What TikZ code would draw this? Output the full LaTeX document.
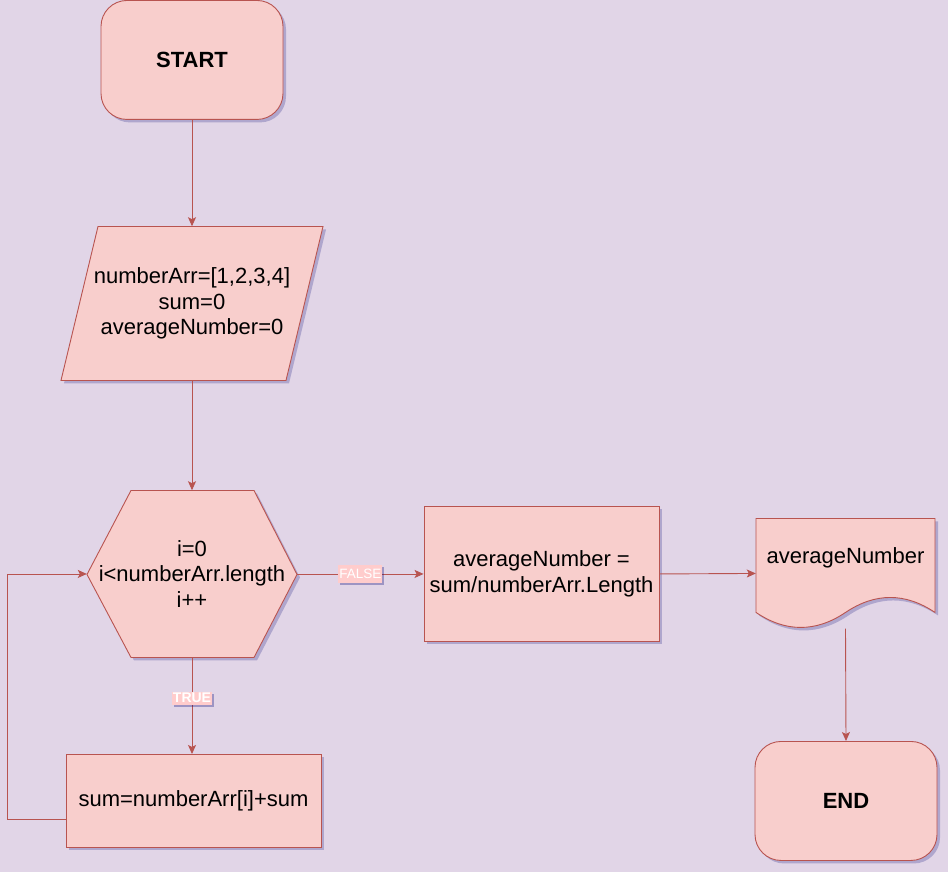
\documentclass[tikz,border=0pt]{standalone}
\usepackage{fontspec}
\setmainfont{Liberation Sans}
\usetikzlibrary{positioning}
\usetikzlibrary{calc}
\usetikzlibrary{shadows}
\usetikzlibrary{arrows.meta}
\definecolor{bgpurple}{HTML}{E1D5E7}
\definecolor{boxfill}{HTML}{F8CECC}
\definecolor{boxline}{HTML}{B85450}
\definecolor{tagfill}{HTML}{FFCCCC}
\newcommand{\flowfont}{\fontsize{22}{25.8}\selectfont}
\tikzset{%
  flow/.style = {-{Stealth[length=9pt,width=8pt,inset=2pt]},draw=boxline,
        line width=0.9pt},
  shade/.style = {drop shadow={shadow xshift=3pt,shadow yshift=-3pt,
        opacity=0.22,fill=black!55!blue}},
  outline/.style = {draw=boxline,fill=boxfill,line width=0.9pt,shade},
  box/.style = {rectangle,outline,align=center,font=\flowfont},
  term/.style = {box,rounded corners=26pt,minimum width=182pt,
        minimum height=119pt,font=\flowfont\bfseries},
  t/.style = {rectangle,align=center,font=\flowfont},
  tag/.style = {fill=tagfill,text=white,inner xsep=1pt,
        drop shadow={shadow xshift=2pt,shadow yshift=-2pt,opacity=0.3,
        fill=black!55!blue}}
}

\begin{document}
\begin{tikzpicture}[x=1pt,y=-1pt]
    \fill[bgpurple] (0,0) rectangle (948,872);
    \node[term] (start) at (192,59.5) {START};
    % input parallelogram
    \filldraw[outline] (98,226) -- (323,226) -- (286,380) -- (61,380) -- cycle;
    \node[t,minimum width=225pt,minimum height=154pt] (init) at (192,303)
        {numberArr=[1,2,3,4]\\sum=0\\averageNumber=0};
    % loop hexagon
    \filldraw[outline] (131,490) -- (254,490) -- (297,574) -- (254,657)
        -- (131,657) -- (87,574) -- cycle;
    \node[t,minimum width=210pt,minimum height=167pt] (loop) at (192,573.5)
        {i=0\\i<numberArr.length\\i++};
    \node[box,minimum width=255pt,minimum height=93pt] (sum) at (193.5,800.5)
        {sum=numberArr[i]+sum};
    \node[box,minimum width=235pt,minimum height=135pt] (avg) at (541.5,573.5)
        {averageNumber =\\sum/numberArr.Length};
    % output document
    \filldraw[outline] (756,518) -- (935,518) -- (935,612)
        .. controls (905.2,592) and (875.3,592) .. (845.5,612)
        .. controls (815.7,632) and (785.8,632) .. (756,612) -- cycle;
    \node[t,minimum width=179pt,minimum height=110pt] (out) at (845.5,573) {};
    \node[t] (outtext) at (845.5,557) {averageNumber};
    \node[term] (end) at (846,800.5) {END};

    \draw[flow] (start) -- (init);
    \draw[flow] (init) -- (loop);
    \draw[flow] (loop.east) -- (avg.west)
        node[tag,midway,inner ysep=4pt,font=\fontsize{13.5}{15}\selectfont] {FALSE};
    \draw[flow] (loop.south) -- (loop.south |- sum.north)
        node[tag,pos=0.42,inner ysep=1.5pt,font=\fontsize{14}{15}\selectfont\bfseries] {TRUE};
    \draw[flow] ([yshift=-18pt]sum.west) -- ++(-58,0) |- (loop.west);
    \draw[flow] (avg.east) -- (out.west);
    \draw[flow] (out.south) -- (end.north);
\end{tikzpicture}
\end{document}
